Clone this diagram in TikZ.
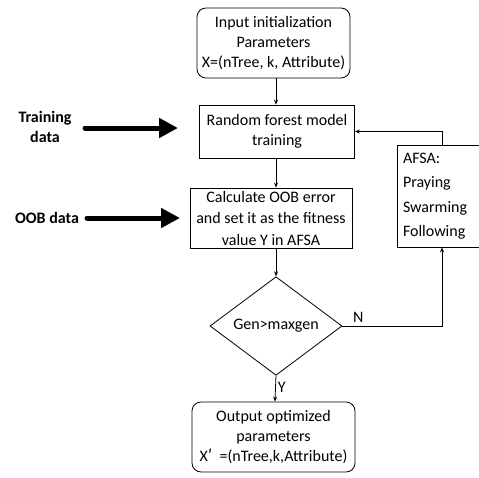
\documentclass[tikz,border=0pt]{standalone}
\usepackage{fontspec}
\setmainfont{Carlito}
\newfontfamily\cjk{Noto Sans CJK SC}
\usetikzlibrary{shapes.geometric,arrows.meta}

\begin{document}
\begin{tikzpicture}[x=1pt,y=-1pt,
    every node/.style={font=\fontsize{16}{20}\selectfont},
    box/.style={draw,line width=0.8pt,align=center,inner sep=2pt},
    rbox/.style={box,rounded corners=9pt},
    cond/.style={draw,diamond,line width=0.8pt,inner sep=0pt,
      minimum width=132pt,minimum height=98pt},
    flow/.style={-{Stealth[length=5pt,width=4pt]},line width=0.8pt},
    feed/.style={-{Triangle[length=19pt,width=19pt]},line width=5pt,line cap=round},
    side/.style={font=\fontsize{16}{20}\bfseries\selectfont,align=center}]
  \useasboundingbox (0,0) rectangle (479,477);

  % main column
  \node[rbox,minimum width=153pt,minimum height=70pt] (init) at (273.5,43)
    {Input initialization\\Parameters\\X=(nTree, k, Attribute)};
  \node[box,minimum width=155pt,minimum height=53pt] (rf) at (277,131.5)
    {Random forest model\\training};
  \node[box,minimum width=162pt,minimum height=60pt,
    font=\fontsize{16}{21.5}\selectfont] (calc) at (271,218)
    {Calculate OOB error\\and set it as the fitness\\value Y in AFSA};
  \node[cond] (dec) at (276,326) {Gen>maxgen};
  \node[rbox,minimum width=163pt,minimum height=70pt] (out) at (273.5,437)
    {Output optimized\\parameters\\X{\cjk ′}\ \ =(nTree,k,Attribute)};

  % fish swarm loop
  \node[box,align=left,text width=78pt,inner sep=6pt,minimum height=102pt,
    font=\fontsize{16}{24.5}\selectfont] (afsa) at (442,196)
    {AFSA:\\Praying\\Swarming\\Following};

  % inputs
  \node[side] (train) at (45,127) {Training\\data};
  \node[side] (oob) at (47,218) {OOB data};
  \coordinate (trainend) at (178,128);
  \coordinate (oobend) at (180,218);
  \draw[feed] (85,128) -- (trainend);
  \draw[feed] (87,218) -- (oobend);

  \draw[flow] (init.south -| dec.north) -- (rf.north -| dec.north);
  \draw[flow] (rf.south -| dec.north) -- (calc.north -| dec.north);
  \draw[flow] (calc.south -| dec.north) -- (dec.north);
  \draw[flow] (dec.south) -- node[right,pos=0.45,inner sep=2pt] {Y} (out);
  \draw[flow] (dec.east) -| node[pos=0.08,above] {N} (afsa.south);
  \draw[flow] (afsa.north) |- (rf.east);
\end{tikzpicture}
\end{document}
